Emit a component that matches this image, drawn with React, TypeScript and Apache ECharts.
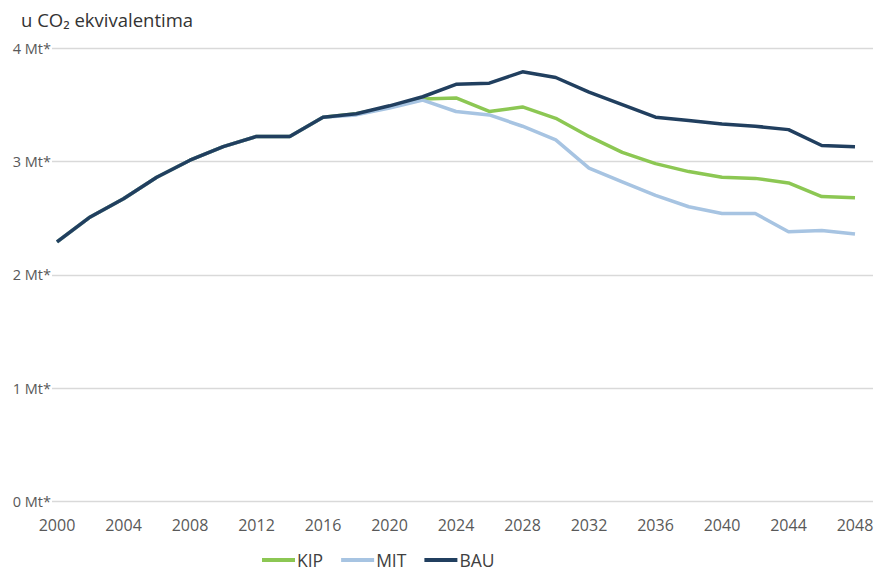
import React, { useEffect, useRef } from "react";
import * as echarts from "echarts";

const years: string[] = [
  "2000", "2002", "2004", "2006", "2008", "2010", "2012", "2014", "2016", "2018",
  "2020", "2022", "2024", "2026", "2028", "2030", "2032", "2034", "2036", "2038",
  "2040", "2042", "2044", "2046", "2048",
];

const bau: number[] = [
  2.29, 2.51, 2.67, 2.86, 3.01, 3.13, 3.22, 3.22, 3.39, 3.42,
  3.49, 3.57, 3.68, 3.69, 3.79, 3.74, 3.61, 3.5, 3.39, 3.36,
  3.33, 3.31, 3.28, 3.14, 3.13,
];

const kip: number[] = [
  2.29, 2.51, 2.67, 2.86, 3.01, 3.13, 3.22, 3.22, 3.39, 3.42,
  3.48, 3.55, 3.56, 3.44, 3.48, 3.38, 3.22, 3.08, 2.98, 2.91,
  2.86, 2.85, 2.81, 2.69, 2.68,
];

const mit: number[] = [
  2.29, 2.51, 2.67, 2.86, 3.01, 3.13, 3.22, 3.22, 3.39, 3.41,
  3.47, 3.54, 3.44, 3.41, 3.31, 3.19, 2.94, 2.82, 2.7, 2.6,
  2.54, 2.54, 2.38, 2.39, 2.36,
];

const yTicks: string[] = ["0 Mt*", "1 Mt*", "2 Mt*", "3 Mt*", "4 Mt*"];

const seriesNames = ["KIP", "MIT", "BAU"];
const colors = ["#8cc753", "#a7c4e2", "#213f5f"];

export default function App() {
  const ref = useRef<HTMLDivElement>(null);
  useEffect(() => {
    if (!ref.current) return;
    const chart = echarts.init(ref.current, undefined, { renderer: "svg" });
    const font = "'Open Sans', 'Liberation Sans', sans-serif";
    const top = 48;
    const bottom = 69.5;
    chart.setOption({
      animation: false,
      backgroundColor: "#ffffff",
      textStyle: { fontFamily: font },
      title: {
        text: "u CO₂ ekvivalentima",
        left: 16,
        top: 5,
        textStyle: { fontFamily: font, fontSize: 18.5, fontWeight: 500, color: "#333333" },
      },
      legend: {
        data: seriesNames,
        left: 257,
        top: 546,
        icon: "rect",
        itemWidth: 33,
        itemHeight: 4,
        itemGap: 18,
        textStyle: { fontFamily: font, fontSize: 17.5, color: "#404040", padding: [0, 0, 0, -3] },
      },
      grid: [
        { left: 52, right: 5, top, bottom },
        { left: 57, right: 23, top, bottom },
      ],
      xAxis: [
        { gridIndex: 0, type: "value", min: 0, max: 1, show: false },
        {
          gridIndex: 1,
          type: "category",
          data: years,
          boundaryGap: false,
          axisLine: { show: false },
          axisTick: { show: false },
          splitLine: { show: false },
          axisLabel: {
            interval: 1,
            margin: 15,
            fontSize: 16,
            color: "#595959",
            fontFamily: font,
          },
        },
      ],
      yAxis: [
        {
          gridIndex: 0,
          type: "value",
          min: 0,
          max: 4,
          interval: 1,
          axisLine: { show: false },
          axisTick: { show: false },
          splitLine: { lineStyle: { color: "#d9d9d9", width: 1.3 } },
          axisLabel: {
            margin: 1,
            fontSize: 14.5,
            color: "#595959",
            fontFamily: font,
            formatter: (v: number) => yTicks[Math.round(v)] ?? "",
          },
        },
        { gridIndex: 1, type: "value", min: 0, max: 4, interval: 1, show: false },
      ],
      series: [kip, mit, bau].map((d, i) => ({
        name: seriesNames[i],
        type: "line",
        xAxisIndex: 1,
        yAxisIndex: 1,
        data: d,
        symbol: "none",
        lineStyle: { width: 3.5, color: colors[i] },
        itemStyle: { color: colors[i] },
      })),
    });
    return () => chart.dispose();
  }, []);
  return (
    <div
      ref={ref}
      style={{ position: "fixed", left: 0, top: 0, width: 878, height: 571 }}
    />
  );
}
